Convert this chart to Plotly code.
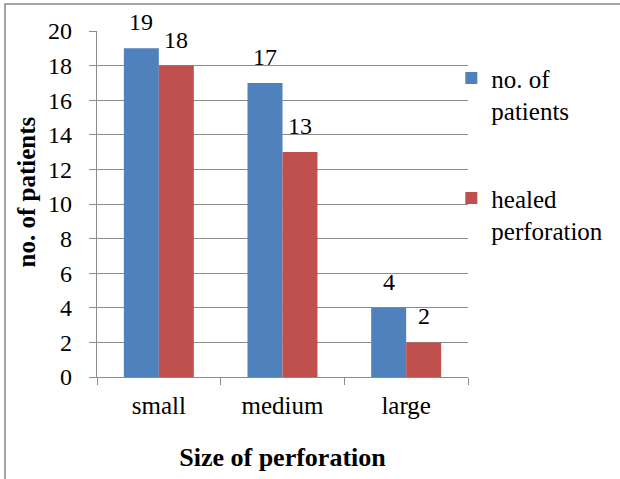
import plotly.graph_objects as go

categories = ["small", "medium", "large"]
no_of_patients = [19, 17, 4]
healed_perforation = [18, 13, 2]
y_ticks = list(range(0, 21, 2))

FONT = "Times New Roman"
GRID = "#8c8c8c"
BAR_W = 0.283  # width of one bar in category units

fig = go.Figure()
fig.add_trace(go.Bar(
    x=categories, y=no_of_patients, name="no. of<br>patients",
    marker=dict(color="#4F81BD", line=dict(width=0)),
    legendgroup="a",
))
fig.add_trace(go.Bar(
    x=categories, y=healed_perforation, name="healed<br>perforation",
    marker=dict(color="#C0504D", line=dict(width=0)),
    legendgroup="b",
))

# value labels sitting above each bar
annotations = []
for series, offset in ((no_of_patients, -BAR_W / 2), (healed_perforation, BAR_W / 2)):
    for i, v in enumerate(series):
        annotations.append(dict(
            x=i + offset, y=v, xref="x", yref="y", text=str(v),
            showarrow=False, yanchor="bottom", yshift=11,
            font=dict(family=FONT, size=24, color="black"),
        ))

# y-axis title
annotations.append(dict(
    x=-0.19, y=0.535, xref="paper", yref="paper", text="<b>no. of patients</b>",
    textangle=-90, showarrow=False, xanchor="center", yanchor="middle",
    font=dict(family=FONT, size=25, color="black"),
))

fig.update_layout(
    width=620, height=479,
    margin=dict(l=97, r=152, t=31, b=102, autoexpand=False),
    paper_bgcolor="white", plot_bgcolor="white",
    font=dict(family=FONT, size=24, color="black"),
    barmode="group", bargap=0.434, bargroupgap=0,
    showlegend=True,
    legend=dict(
        x=0.955, xanchor="left", y=0.93, yanchor="top",
        font=dict(family=FONT, size=25, color="black"),
        valign="top", tracegroupgap=52, traceorder="grouped",
        bgcolor="rgba(0,0,0,0)",
    ),
    annotations=annotations,
    xaxis=dict(
        title=dict(text="<b>Size of perforation</b>", font=dict(family=FONT, size=26), standoff=29),
        showline=True, linecolor=GRID, linewidth=1.3,
        ticks="outside", tickson="boundaries", ticklen=7, tickcolor=GRID, tickwidth=1.3,
        showgrid=False, tickfont=dict(family=FONT, size=25), ticklabelstandoff=6,
    ),
    yaxis=dict(
        range=[0, 20], tickvals=y_ticks,
        showline=True, linecolor=GRID, linewidth=1.3,
        ticks="outside", ticklen=7, tickcolor=GRID, tickwidth=1.3,
        showgrid=True, gridcolor=GRID, gridwidth=1.3,
        zeroline=False, tickfont=dict(family=FONT, size=24), ticklabelstandoff=12,
    ),
    shapes=[dict(
        type="rect", xref="paper", yref="paper",
        x0=(5 - 97) / 371, x1=(640 - 97) / 371,
        y0=-(500 - 377) / 346, y1=1 + (31 - 4) / 346,
        line=dict(color="#888888", width=1.5), fillcolor="rgba(0,0,0,0)",
        layer="below",
    )],
)

fig.write_html("out.html")
